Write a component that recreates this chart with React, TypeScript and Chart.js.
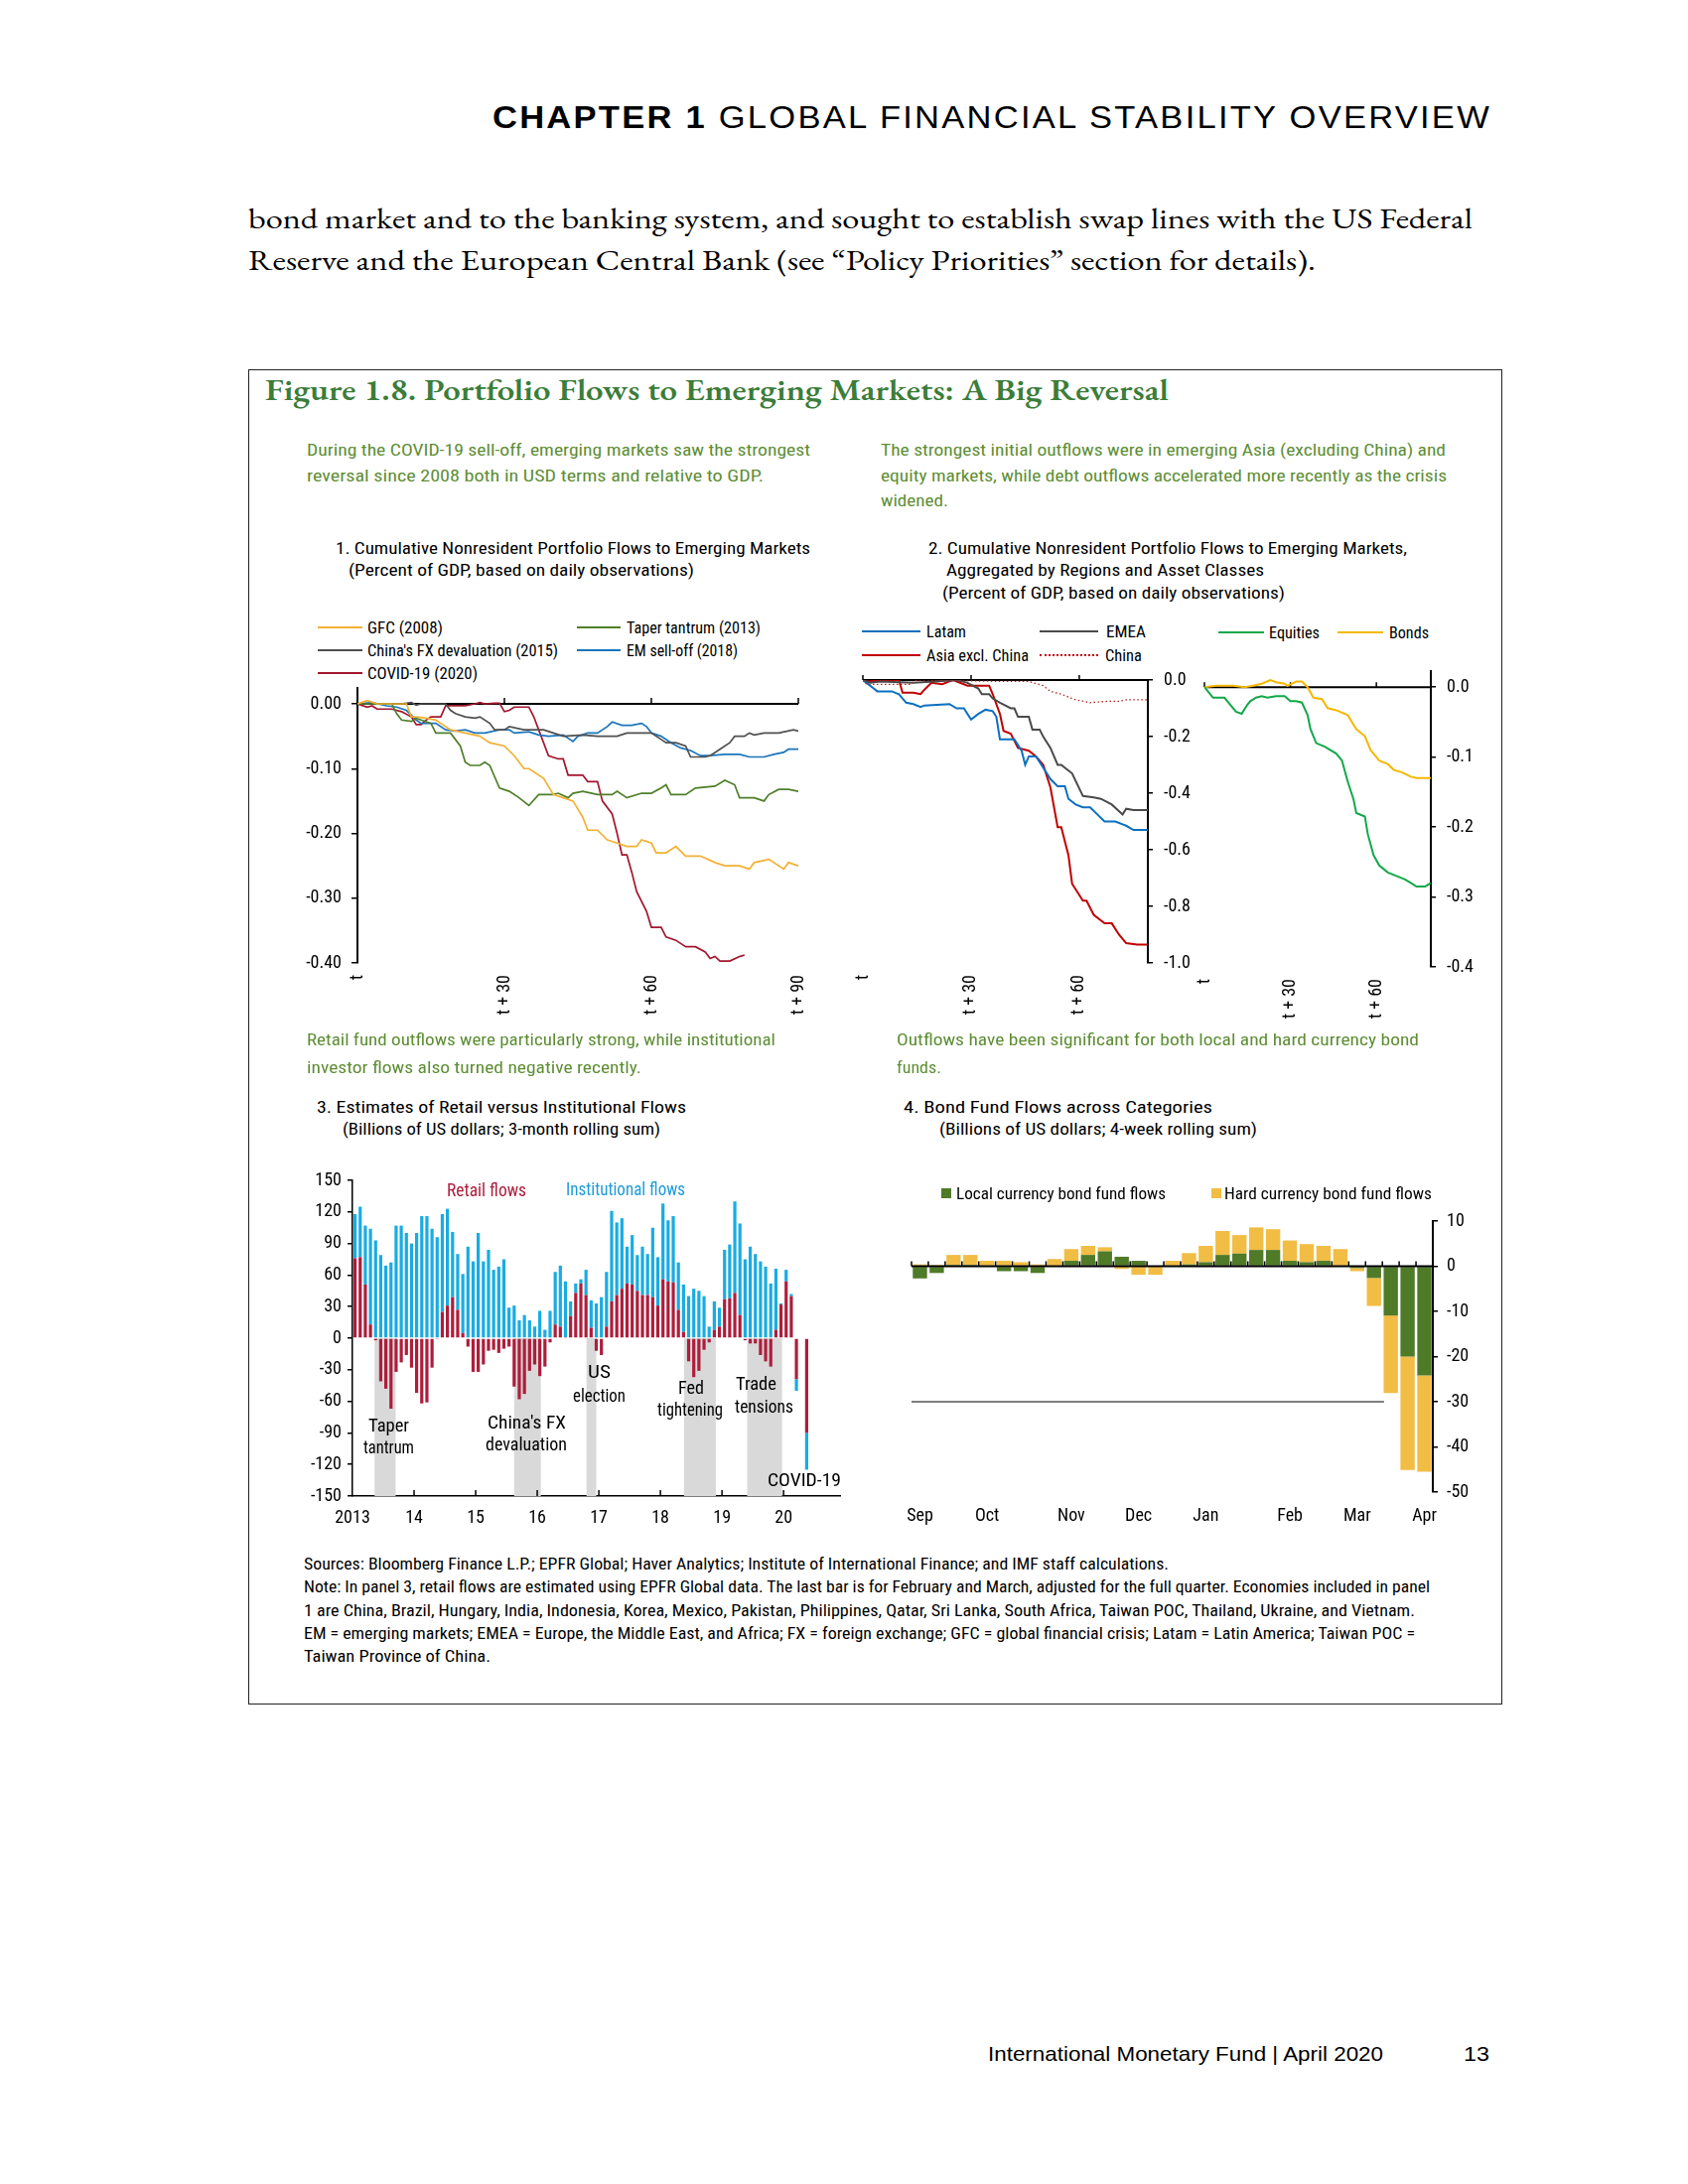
import React, { useEffect, useLayoutEffect, useRef } from 'react';
import { Chart, registerables } from 'chart.js';

Chart.register(...registerables);

const NARROW = "'Roboto Condensed', 'DejaVu Sans Condensed', 'Liberation Sans', Arial, sans-serif";
const SANS = "'Liberation Sans', Arial, sans-serif";
const SERIF = "'EB Garamond', 'Liberation Serif', 'Times New Roman', serif";
Chart.defaults.font.family = NARROW;
Chart.defaults.color = '#000';

// ---------------- Panel 1 data (days after t, percent of GDP) ----------------
const p1XTickValues = [0, 30, 60, 90];
const p1XTickLabels = ['t', 't + 30', 't + 60', 't + 90'];
const p1YTickValues = [0, -0.1, -0.2, -0.3, -0.4];

const gfcSeries = [[0,0],[2,0.005],[4,0],[10,0],[11,-0.02],[12,-0.02],[14,-0.022],[16,-0.025],[19,-0.04],[22,-0.045],[25,-0.05],[27,-0.06],[30,-0.065],[32,-0.08],[34,-0.1],[35,-0.1],[38,-0.115],[40,-0.14],[42,-0.145],[44,-0.15],[46,-0.175],[47,-0.195],[49,-0.195],[51,-0.21],[53,-0.215],[55,-0.22],[57,-0.22],[58,-0.21],[60,-0.215],[61,-0.23],[63,-0.23],[65,-0.22],[67,-0.235],[70,-0.235],[73,-0.245],[75,-0.25],[78,-0.25],[80,-0.255],[81,-0.245],[84,-0.24],[87,-0.255],[88,-0.245],[90,-0.25]];
const tantrumSeries = [[0,0],[7,0],[8,-0.015],[9,-0.025],[11,-0.027],[12,-0.022],[13,-0.025],[15,-0.03],[16,-0.045],[19,-0.045],[21,-0.065],[22,-0.09],[23,-0.095],[25,-0.095],[26,-0.09],[27,-0.095],[29,-0.13],[31,-0.135],[33,-0.145],[35,-0.157],[37,-0.14],[40,-0.14],[41,-0.138],[43,-0.145],[44,-0.138],[46,-0.135],[49,-0.14],[52,-0.14],[53,-0.135],[55,-0.145],[58,-0.138],[60,-0.138],[62,-0.13],[63,-0.125],[64,-0.14],[67,-0.14],[69,-0.13],[73,-0.127],[75,-0.118],[77,-0.125],[78,-0.145],[81,-0.145],[83,-0.15],[84,-0.14],[86,-0.132],[88,-0.132],[90,-0.135]];
const chinaFxSeries = [[0,0],[9,0],[11,0.002],[12,-0.002],[13,0],[18,0],[19,-0.01],[20,-0.015],[22,-0.02],[24,-0.022],[25,-0.02],[27,-0.03],[28,-0.04],[30,-0.04],[31,-0.035],[34,-0.04],[38,-0.04],[40,-0.045],[42,-0.05],[46,-0.048],[49,-0.05],[53,-0.05],[55,-0.045],[60,-0.045],[62,-0.055],[63,-0.06],[65,-0.06],[67,-0.065],[68,-0.082],[71,-0.082],[72,-0.08],[74,-0.07],[76,-0.06],[77,-0.05],[79,-0.05],[80,-0.045],[81,-0.048],[83,-0.045],[86,-0.045],[89,-0.04],[90,-0.042]];
const emSelloffSeries = [[0,0],[3,0.002],[6,-0.003],[8,-0.005],[10,-0.01],[12,-0.025],[13,-0.03],[16,-0.03],[18,-0.04],[20,-0.042],[22,-0.04],[24,-0.045],[26,-0.045],[29,-0.04],[31,-0.04],[32,-0.045],[35,-0.043],[37,-0.048],[39,-0.05],[42,-0.048],[44,-0.058],[45,-0.05],[47,-0.045],[49,-0.045],[51,-0.035],[52,-0.028],[54,-0.033],[56,-0.033],[58,-0.03],[59,-0.035],[60,-0.045],[62,-0.05],[64,-0.06],[66,-0.068],[68,-0.072],[70,-0.08],[72,-0.08],[75,-0.078],[78,-0.078],[80,-0.082],[83,-0.082],[85,-0.078],[87,-0.075],[88,-0.07],[90,-0.07]];
const covidSeries = [[0,0],[2,-0.005],[3,-0.003],[4,-0.008],[7,-0.008],[9,-0.012],[11,-0.02],[12,-0.032],[13,-0.032],[14,-0.025],[15,-0.02],[17,-0.02],[18,-0.003],[22,-0.003],[24,0],[25,0.002],[26,0],[28,0.001],[29,0.001],[30,-0.012],[31,-0.01],[32,-0.005],[35,-0.005],[36,-0.02],[37,-0.04],[39,-0.08],[41,-0.085],[42,-0.085],[43,-0.11],[46,-0.11],[47,-0.12],[49,-0.12],[50,-0.15],[52,-0.17],[53,-0.2],[54,-0.233],[55,-0.233],[56,-0.26],[57,-0.29],[59,-0.32],[60,-0.345],[62,-0.345],[63,-0.36],[65,-0.365],[67,-0.375],[69,-0.375],[71,-0.383],[72,-0.393],[73,-0.39],[74,-0.397],[76,-0.397],[78,-0.39],[79,-0.388]];

// ---------------- Panel 2 data ----------------
const p2XTickValues = [0, 30, 60];
const p2XTickLabels = ['t', 't + 30', 't + 60'];
const p2aYTickValues = [0, -0.2, -0.4, -0.6, -0.8, -1.0];
const p2bYTickValues = [0, -0.1, -0.2, -0.3, -0.4];

const latamSeries = [[0,0],[1,-0.01],[3,-0.03],[4,-0.04],[8,-0.04],[10,-0.05],[12,-0.08],[14,-0.085],[16,-0.095],[17,-0.09],[24,-0.085],[26,-0.1],[28,-0.1],[30,-0.14],[32,-0.12],[34,-0.105],[36,-0.11],[37,-0.13],[38,-0.21],[42,-0.21],[44,-0.25],[45,-0.3],[46,-0.27],[48,-0.27],[51,-0.33],[52,-0.35],[54,-0.375],[56,-0.375],[57,-0.42],[59,-0.44],[61,-0.45],[63,-0.45],[65,-0.475],[67,-0.5],[70,-0.5],[72,-0.51],[73,-0.515],[75,-0.53],[79,-0.53]];
const emeaSeries = [[0,0],[2,-0.01],[5,-0.005],[14,-0.01],[20,-0.005],[26,0],[29,-0.01],[32,-0.03],[33,-0.05],[35,-0.05],[36,-0.065],[38,-0.08],[41,-0.1],[42,-0.1],[43,-0.13],[46,-0.13],[47,-0.175],[49,-0.175],[50,-0.2],[52,-0.24],[54,-0.3],[55,-0.3],[57,-0.32],[58,-0.33],[61,-0.41],[64,-0.415],[66,-0.42],[69,-0.44],[72,-0.475],[73,-0.455],[75,-0.46],[79,-0.46]];
const asiaExChinaSeries = [[0,0],[1,-0.005],[8,0],[10,0],[11,-0.045],[14,-0.045],[16,-0.05],[17,-0.035],[19,-0.01],[22,-0.015],[24,-0.005],[25,0],[29,-0.02],[35,-0.02],[36,-0.05],[38,-0.12],[39,-0.18],[41,-0.19],[43,-0.24],[46,-0.25],[48,-0.27],[50,-0.3],[52,-0.38],[54,-0.52],[55,-0.52],[57,-0.62],[58,-0.72],[61,-0.78],[62,-0.78],[64,-0.83],[67,-0.86],[69,-0.86],[71,-0.9],[73,-0.93],[76,-0.935],[79,-0.935]];
const chinaSeries = [[0,0],[1,-0.015],[13,-0.015],[15,0],[39,-0.005],[46,-0.005],[50,-0.02],[52,-0.04],[55,-0.05],[59,-0.07],[63,-0.08],[68,-0.075],[71,-0.075],[73,-0.07],[79,-0.07]];
const equitiesSeries = [[0,0],[1,-0.005],[3,-0.015],[7,-0.015],[9,-0.025],[11,-0.035],[13,-0.038],[15,-0.025],[16,-0.02],[18,-0.015],[20,-0.013],[22,-0.015],[25,-0.013],[28,-0.013],[30,-0.02],[32,-0.02],[34,-0.022],[36,-0.04],[37,-0.06],[39,-0.08],[42,-0.085],[44,-0.09],[46,-0.095],[48,-0.105],[50,-0.135],[52,-0.16],[53,-0.18],[56,-0.185],[57,-0.21],[59,-0.24],[61,-0.255],[64,-0.265],[67,-0.27],[70,-0.275],[72,-0.28],[74,-0.285],[77,-0.285],[79,-0.28]];
const bondsSeries = [[0,0],[4,0.002],[10,0.002],[14,0],[17,0.002],[20,0.005],[23,0.01],[25,0.007],[28,0.005],[29,0.002],[32,0.008],[34,0.008],[36,0],[38,-0.015],[41,-0.017],[43,-0.03],[46,-0.033],[50,-0.04],[53,-0.06],[56,-0.07],[58,-0.09],[61,-0.105],[64,-0.11],[66,-0.118],[69,-0.122],[72,-0.128],[74,-0.13],[79,-0.13]];

// ---------------- Panel 3 data (monthly from Jan 2013, billions of US dollars) ----------------
const p3YearTickValues = [0, 12, 24, 36, 48, 60, 72, 84];
const p3YearLabels = ['2013', '14', '15', '16', '17', '18', '19', '20'];
const p3YTickValues = [150, 120, 90, 60, 30, 0, -30, -60, -90, -120, -150];
const retailFlows = [76,77,51,13,-2,-41,-48,-67,-32,-23,-16,-28, -52,-62,-61,-28,-1,25,31,39,27,5,-8,-32, -32,-25,-12,-11,-14,-10,-8,-46,-58,-53,-31,-25, -36,-27,-4,13,11,1,21,43,52,41,10,-12, -16,11,35,41,47,52,51,45,41,41,39,31, 56,54,53,27,6,-22,-37,-31,-11,-4,8,11, 37,38,43,22,-2,-5,-5,-16,-22,-27,8,32, 54,40,-39,null,-90];
const institutionalFlows = [42,48,56,91,93,79,69,72,107,107,100,90, 100,116,116,104,96,93,92,62,53,56,87,73, 100,73,84,65,68,75,29,31,17,22,17,11, 26,8,26,50,58,53,14,9,4,24,26,33, 39,52,86,69,67,35,47,34,46,39,66,46, 72,58,63,45,45,40,47,45,40,11,27,18, 47,51,87,87,75,87,80,73,68,52,58,1, 11,2,-11,null,-35];
// event periods, in months from Jan 2013
const p3EventBands = [[4.3, 8.4], [31.5, 36.7], [45.6, 47.5], [64.6, 70.8], [76.9, 83.7]];

// ---------------- Panel 4 data (weekly, billions of US dollars) ----------------
const p4Weeks = ['Sep','','','','Oct','','','','','Nov','','','','Dec','','','','Jan','','','','','Feb','','','','Mar','','','','Apr'];
const p4YTickValues = [10, 0, -10, -20, -30, -40, -50];
const localCurrencyFlows = [-2.7,-1.5,0.3,0.3,0,-1.1,-1.1,-1.5,0,1.2,2.5,3.3,2.1,1.2,0,0,0.4,0.9,2.5,2.8,3.6,3.6,1.2,0.9,1.2,0,-0.4,-2.6,-10.9,-20.0,-24.2];
const hardCurrencyFlows = [0.4,0.3,2.2,2.2,1.2,1.2,0.9,0.4,1.6,2.6,2.0,0.9,-0.6,-1.9,-1.9,1.2,2.5,3.6,5.3,4.1,5.0,4.6,4.5,4.0,3.3,3.8,-0.7,-6.2,-17.2,-25.1,-21.3];

const COL = {
  gfc: '#F2B134', tantrum: '#4F7F2A', chinaFx: '#505050', em: '#1B75BC', covid: '#A3172F',
  latam: '#0B70C0', emea: '#4A4A4A', asia: '#C00000', china: '#B22222', equities: '#12A84A', bonds: '#F5B800',
  retail: '#AD1E3C', inst: '#19ACE3', band: '#D9D9D9', local: '#4F7A28', hard: '#F1BD45',
  titleGreen: '#3B7D3A', introGreen: '#5E8E35',
};

const tickFont = { family: NARROW, size: 18 };

// ---------------- plugins ----------------
function zeroLine(o: { ticks?: number[]; boundaries?: boolean; len: number; before?: boolean; width?: number }) {
  const draw = (chart: any) => {
    const { ctx, chartArea: ca, scales } = chart;
    const y0 = scales.y.getPixelForValue(0);
    ctx.save();
    ctx.strokeStyle = '#000';
    ctx.lineWidth = o.width ?? 2;
    ctx.beginPath(); ctx.moveTo(ca.left, y0); ctx.lineTo(ca.right, y0); ctx.stroke();
    let xs: number[] = [];
    if (o.boundaries) {
      const n = chart.data.labels.length; const step = (ca.right - ca.left) / n;
      for (let i = 0; i <= n; i++) xs.push(ca.left + i * step);
    } else xs = (o.ticks || []).map((v) => scales.x.getPixelForValue(v));
    ctx.lineWidth = 1.5;
    ctx.beginPath();
    xs.forEach((x) => { ctx.moveTo(x, y0); ctx.lineTo(x, y0 - o.len); });
    ctx.stroke();
    ctx.restore();
  };
  return {
    id: 'zeroLine',
    beforeDatasetsDraw(chart: any) { if (o.before) draw(chart); },
    afterDatasetsDraw(chart: any) { if (!o.before) draw(chart); },
  };
}

function bands(ranges: number[][], color: string) {
  return {
    id: 'bands',
    beforeDatasetsDraw(chart: any) {
      const { ctx, scales: { x, y } } = chart;
      const y0 = y.getPixelForValue(0), y1 = y.getPixelForValue(y.min);
      ctx.save(); ctx.fillStyle = color;
      ranges.forEach(([a, b]) => { const x0 = x.getPixelForValue(a), x1 = x.getPixelForValue(b); ctx.fillRect(x0, y0, x1 - x0, y1 - y0); });
      ctx.restore();
    },
  };
}

function innerTicks(vals: number[], len: number) {
  return {
    id: 'innerTicks',
    afterDraw(chart: any) {
      const { ctx, chartArea: ca, scales: { x } } = chart;
      ctx.save(); ctx.strokeStyle = '#000'; ctx.lineWidth = 1.5; ctx.beginPath();
      vals.forEach((v) => { const px = x.getPixelForValue(v); ctx.moveTo(px, ca.bottom); ctx.lineTo(px, ca.bottom - len); });
      ctx.stroke(); ctx.restore();
    },
  };
}

function hline(value: number, toIndex: number) {
  return {
    id: 'hline',
    beforeDatasetsDraw(chart: any) {
      const { ctx, chartArea: ca, scales: { y } } = chart;
      const n = chart.data.labels.length; const step = (ca.right - ca.left) / n;
      const py = y.getPixelForValue(value);
      ctx.save(); ctx.strokeStyle = '#000'; ctx.lineWidth = 1.2; ctx.beginPath();
      ctx.moveTo(ca.left, py); ctx.lineTo(ca.left + (toIndex + 0.5) * step, py); ctx.stroke(); ctx.restore();
    },
  };
}

const fixTicks = (vals: number[]) => (s: any) => { s.ticks = vals.map((v) => ({ value: v })); };
const base = { responsive: false, animation: false, events: [], plugins: { legend: { display: false }, tooltip: { enabled: false } } };

function lineDs(label: string, pts: number[][], color: string, width: number, dash?: number[]) {
  return { label, data: pts.map(([x, y]) => ({ x, y })), borderColor: color, backgroundColor: color, borderWidth: width, pointRadius: 0, fill: false, tension: 0, borderDash: dash || [] };
}

function rotatedX(min: number, max: number, vals: number[], labels: string[], height: number) {
  return {
    type: 'linear', min, max,
    afterBuildTicks: fixTicks(vals),
    afterFit: (s: any) => { s.height = height; },
    grid: { display: false, drawTicks: false }, border: { display: false },
    ticks: { font: tickFont, color: '#000', minRotation: 90, maxRotation: 90, padding: 12, autoSkip: false, callback: (v: any) => labels[vals.indexOf(Number(v))] ?? '' },
  };
}

function p1Config(): any {
  return {
    type: 'line',
    data: { datasets: [
      lineDs('GFC (2008)', gfcSeries, COL.gfc, 1.7),
      lineDs('Taper tantrum (2013)', tantrumSeries, COL.tantrum, 1.7),
      lineDs("China's FX devaluation (2015)", chinaFxSeries, COL.chinaFx, 1.7),
      lineDs('EM sell-off (2018)', emSelloffSeries, COL.em, 1.7),
      lineDs('COVID-19 (2020)', covidSeries, COL.covid, 1.7),
    ] },
    options: {
      ...base,
      layout: { padding: { top: 22.7, right: 46, left: 0, bottom: 0 } },
      scales: {
        x: rotatedX(0, 90, p1XTickValues, p1XTickLabels, 70),
        y: {
          min: -0.4, max: 0.025, afterBuildTicks: fixTicks(p1YTickValues), afterFit: (s: any) => { s.width = 70; },
          grid: { display: true, drawOnChartArea: false, drawTicks: true, tickLength: 6, color: '#000', lineWidth: 1.5 },
          border: { display: true, color: '#000', width: 2 },
          ticks: { font: tickFont, color: '#000', padding: 10, callback: (v: any) => Number(v).toFixed(2) },
        },
      },
    },
    plugins: [zeroLine({ ticks: [30, 60, 90], len: 6, before: true })],
  };
}

function rightY(min: number, max: number, vals: number[], width: number, decimals: number, padding: number) {
  return {
    position: 'right', min, max, afterBuildTicks: fixTicks(vals), afterFit: (s: any) => { s.width = width; },
    grid: { display: true, drawOnChartArea: false, drawTicks: true, tickLength: 5, color: '#000', lineWidth: 1.5 },
    border: { display: true, color: '#000', width: 2 },
    ticks: { font: tickFont, color: '#000', padding, callback: (v: any) => (decimals >= 0 ? Number(v).toFixed(decimals) : String(v)) },
  };
}

function p2aConfig(): any {
  return {
    type: 'line',
    data: { datasets: [
      lineDs('China', chinaSeries, COL.china, 1.3, [1.5, 2.5]),
      lineDs('EMEA', emeaSeries, COL.emea, 2),
      lineDs('Latam', latamSeries, COL.latam, 2),
      lineDs('Asia excl. China', asiaExChinaSeries, COL.asia, 2),
    ] },
    options: {
      ...base,
      layout: { padding: { top: 25, left: 19, right: 0, bottom: 0 } },
      scales: { x: rotatedX(0, 79, p2XTickValues, p2XTickLabels, 70), y: rightY(-1, 0, p2aYTickValues, 54, 1, 11) },
    },
    plugins: [zeroLine({ ticks: [0, 30, 60], len: 5, before: true })],
  };
}

function p2bConfig(): any {
  return {
    type: 'line',
    data: { datasets: [
      lineDs('Equities', equitiesSeries, COL.equities, 2),
      lineDs('Bonds', bondsSeries, COL.bonds, 2),
    ] },
    options: {
      ...base,
      layout: { padding: { top: 26, left: 18, right: 0, bottom: 0 } },
      scales: { x: rotatedX(0, 79, p2XTickValues, p2XTickLabels, 66), y: rightY(-0.4, 0.023, p2bYTickValues, 59, 1, 11) },
    },
    plugins: [zeroLine({ ticks: [0, 30, 60], len: 5, before: true })],
  };
}

function monthPoints(arr: (number | null)[]) {
  return arr.map((v, i) => (v == null ? null : { x: i + 0.5, y: v })).filter((p) => p !== null);
}

function p3Config(): any {
  return {
    type: 'bar',
    data: { datasets: [
      { label: 'Retail flows', data: monthPoints(retailFlows), backgroundColor: COL.retail, borderWidth: 0, barPercentage: 0.62, categoryPercentage: 1 },
      { label: 'Institutional flows', data: monthPoints(institutionalFlows), backgroundColor: COL.inst, borderWidth: 0, barPercentage: 0.62, categoryPercentage: 1 },
    ] },
    options: {
      ...base,
      layout: { padding: { top: 19, right: 34, left: 0, bottom: 0 } },
      scales: {
        x: {
          type: 'linear', min: 0, max: 95, offset: false, stacked: true,
          afterBuildTicks: fixTicks(p3YearTickValues), afterFit: (s: any) => { s.height = 43; },
          grid: { display: false, drawTicks: false, offset: false }, border: { display: true, color: '#000', width: 1.5 },
          ticks: { font: tickFont, color: '#000', padding: 12, maxRotation: 0, autoSkip: false, callback: (v: any) => p3YearLabels[p3YearTickValues.indexOf(Number(v))] ?? '' },
        },
        y: {
          min: -150, max: 150, stacked: true, afterBuildTicks: fixTicks(p3YTickValues), afterFit: (s: any) => { s.width = 65; },
          grid: { display: true, drawOnChartArea: false, drawTicks: true, tickLength: 5, color: '#000', lineWidth: 1.5 },
          border: { display: true, color: '#000', width: 1.5 },
          ticks: { font: tickFont, color: '#000', padding: 6, callback: (v: any) => String(v) },
        },
      },
    },
    plugins: [bands(p3EventBands, COL.band), innerTicks(p3YearTickValues.slice(1), 6)],
  };
}

function p4Config(): any {
  return {
    type: 'bar',
    data: { labels: p4Weeks, datasets: [
      { label: 'Local currency bond fund flows', data: localCurrencyFlows, backgroundColor: COL.local, borderWidth: 0, barPercentage: 0.85, categoryPercentage: 1 },
      { label: 'Hard currency bond fund flows', data: hardCurrencyFlows, backgroundColor: COL.hard, borderWidth: 0, barPercentage: 0.85, categoryPercentage: 1 },
    ] },
    options: {
      ...base,
      layout: { padding: { top: 25, left: 38, right: 0, bottom: 0 } },
      scales: {
        x: {
          stacked: true, afterFit: (s: any) => { s.height = 47; },
          grid: { display: false, drawTicks: false }, border: { display: false },
          ticks: { font: tickFont, color: '#000', padding: 14, maxRotation: 0, autoSkip: false },
        },
        y: { ...rightY(-50, 10, p4YTickValues, 57, -1, 9), stacked: true },
      },
    },
    plugins: [hline(-30, 27.6), zeroLine({ boundaries: true, len: 5 })],
  };
}

// ---------------- components ----------------
function ChartBox({ left, top, width, height, make }: { left: number; top: number; width: number; height: number; make: () => any }) {
  const ref = useRef<HTMLCanvasElement>(null);
  useEffect(() => {
    const chart = new Chart(ref.current as HTMLCanvasElement, make());
    return () => chart.destroy();
  }, []);
  return <canvas ref={ref} width={width} height={height} style={{ position: 'absolute', left, top, width, height }} />;
}

type TP = { x: number; y: number; w?: number; size?: number; color?: string; family?: string; weight?: any; ls?: number; children: React.ReactNode };
function T({ x, y, w, size = 17, color = '#000', family = NARROW, weight = 400, ls = 0, children }: TP) {
  const ref = useRef<HTMLDivElement>(null);
  useLayoutEffect(() => {
    const el = ref.current;
    if (!el || !w) return;
    el.style.transform = 'none';
    const nat = el.getBoundingClientRect().width;
    if (nat > 0) el.style.transform = `scaleX(${w / nat})`;
  });
  const lh = Math.round(size * 1.3);
  return (
    <div ref={ref} style={{ position: 'absolute', left: x, top: y - lh / 2, height: lh, lineHeight: `${lh}px`, fontSize: size, fontFamily: family, fontWeight: weight, color, whiteSpace: 'nowrap', transformOrigin: '0 50%', letterSpacing: ls }}>
      {children}
    </div>
  );
}

function LineKey({ x1, x2, y, color, width = 2, dotted = false }: any) {
  return <div style={{ position: 'absolute', left: x1, top: y - width / 2, width: x2 - x1, height: 0, borderTop: `${width}px ${dotted ? 'dotted' : 'solid'} ${color}` }} />;
}
function SquareKey({ x, y, color }: any) {
  return <div style={{ position: 'absolute', left: x, top: y - 5, width: 10, height: 10, background: color }} />;
}

export default function App() {
  return (
    <div style={{ position: 'absolute', left: 0, top: 0, width: 1700, height: 2200, background: '#fff', overflow: 'hidden' }}>
      <T x={496} y={119} w={1006} size={31} family={SANS} ls={2}><b>CHAPTER 1</b> GLOBAL FINANCIAL STABILITY OVERVIEW</T>
      <T x={250} y={220} w={1233} size={29} family={SERIF}>bond market and to the banking system, and sought to establish swap lines with the US Federal</T>
      <T x={250} y={262} w={1075} size={29} family={SERIF}>Reserve and the European Central Bank (see “Policy Priorities” section for details).</T>

      <div style={{ position: 'absolute', left: 250, top: 372, width: 1263, height: 1345, border: '1.5px solid #222', boxSizing: 'border-box' }} />
      <T x={267} y={392} w={910} size={30} family={SERIF} weight={600} color={COL.titleGreen}>Figure 1.8. Portfolio Flows to Emerging Markets: A Big Reversal</T>

      <T x={309} y={453} w={507} color={COL.introGreen}>During the COVID-19 sell-off, emerging markets saw the strongest</T>
      <T x={309} y={479} w={460} color={COL.introGreen}>reversal since 2008 both in USD terms and relative to GDP.</T>
      <T x={887} y={453} w={569} color={COL.introGreen}>The strongest initial outflows were in emerging Asia (excluding China) and</T>
      <T x={887} y={479} w={570} color={COL.introGreen}>equity markets, while debt outflows accelerated more recently as the crisis</T>
      <T x={887} y={504} w={68} color={COL.introGreen}>widened.</T>

      <T x={338} y={552} w={478}>1. Cumulative Nonresident Portfolio Flows to Emerging Markets</T>
      <T x={351} y={574} w={348}>(Percent of GDP, based on daily observations)</T>
      <T x={935} y={552} w={482}>2. Cumulative Nonresident Portfolio Flows to Emerging Markets,</T>
      <T x={953} y={574} w={320}>Aggregated by Regions and Asset Classes</T>
      <T x={949} y={597} w={345}>(Percent of GDP, based on daily observations)</T>

      {/* panel 1 legend */}
      <LineKey x1={320} x2={365} y={632} color={COL.gfc} />
      <T x={370} y={632} w={76}>GFC (2008)</T>
      <LineKey x1={320} x2={365} y={655} color={COL.chinaFx} />
      <T x={370} y={655} w={192}>China's FX devaluation (2015)</T>
      <LineKey x1={320} x2={365} y={678} color={COL.covid} />
      <T x={370} y={678} w={111}>COVID-19 (2020)</T>
      <LineKey x1={581} x2={625} y={632} color={COL.tantrum} />
      <T x={631} y={632} w={135}>Taper tantrum (2013)</T>
      <LineKey x1={581} x2={625} y={655} color={COL.em} />
      <T x={631} y={655} w={112}>EM sell-off (2018)</T>

      {/* panel 2 legend */}
      <LineKey x1={868} x2={927} y={636} color={COL.latam} />
      <T x={933} y={636} w={40}>Latam</T>
      <LineKey x1={1047} x2={1106} y={636} color={COL.emea} />
      <T x={1114} y={636} w={40}>EMEA</T>
      <LineKey x1={868} x2={927} y={660} color={COL.asia} />
      <T x={933} y={660} w={103}>Asia excl. China</T>
      <LineKey x1={1047} x2={1106} y={660} color="#C00000" width={2} dotted />
      <T x={1113} y={660} w={37}>China</T>
      <LineKey x1={1227} x2={1273} y={637} color={COL.equities} />
      <T x={1278} y={637} w={51}>Equities</T>
      <LineKey x1={1347} x2={1393} y={637} color={COL.bonds} />
      <T x={1399} y={637} w={40}>Bonds</T>

      <ChartBox left={290} top={670} width={560} height={370} make={p1Config} />
      <ChartBox left={850} top={660} width={360} height={380} make={p2aConfig} />
      <ChartBox left={1195} top={650} width={305} height={390} make={p2bConfig} />

      <T x={309} y={1047} w={472} color={COL.introGreen}>Retail fund outflows were particularly strong, while institutional</T>
      <T x={309} y={1075} w={337} color={COL.introGreen}>investor flows also turned negative recently.</T>
      <T x={903} y={1047} w={526} color={COL.introGreen}>Outflows have been significant for both local and hard currency bond</T>
      <T x={903} y={1075} w={45} color={COL.introGreen}>funds.</T>

      <T x={319} y={1115} w={372}>3. Estimates of Retail versus Institutional Flows</T>
      <T x={345} y={1137} w={320}>(Billions of US dollars; 3-month rolling sum)</T>
      <T x={910} y={1115} w={311}>4. Bond Fund Flows across Categories</T>
      <T x={946} y={1137} w={320}>(Billions of US dollars; 4-week rolling sum)</T>

      <ChartBox left={290} top={1170} width={590} height={380} make={p3Config} />
      <ChartBox left={880} top={1205} width={620} height={345} make={p4Config} />

      {/* panel 3 annotations */}
      <T x={450} y={1198} w={80} size={18} color={COL.retail}>Retail flows</T>
      <T x={570} y={1197} w={120} size={18} color="#1E9BD7">Institutional flows</T>
      <T x={371} y={1435} w={41} size={18}>Taper</T>
      <T x={366} y={1457} w={51} size={18}>tantrum</T>
      <T x={491} y={1432} w={79} size={18}>China's FX</T>
      <T x={489} y={1454} w={82} size={18}>devaluation</T>
      <T x={592} y={1381} w={23} size={18}>US</T>
      <T x={577} y={1405} w={53} size={18}>election</T>
      <T x={683} y={1397} w={26} size={18}>Fed</T>
      <T x={662} y={1419} w={66} size={18}>tightening</T>
      <T x={741} y={1393} w={41} size={18}>Trade</T>
      <T x={740} y={1416} w={59} size={18}>tensions</T>
      <T x={773} y={1490} w={74} size={18}>COVID-19</T>

      {/* panel 4 legend */}
      <SquareKey x={948} y={1202} color={COL.local} />
      <T x={963} y={1202} w={211}>Local currency bond fund flows</T>
      <SquareKey x={1220} y={1202} color={COL.hard} />
      <T x={1233} y={1202} w={209}>Hard currency bond fund flows</T>

      <T x={306} y={1575} w={871} size={16}>Sources: Bloomberg Finance L.P.; EPFR Global; Haver Analytics; Institute of International Finance; and IMF staff calculations.</T>
      <T x={306} y={1598} w={1134} size={16}>Note: In panel 3, retail flows are estimated using EPFR Global data. The last bar is for February and March, adjusted for the full quarter. Economies included in panel</T>
      <T x={306} y={1622} w={1119} size={16}>1 are China, Brazil, Hungary, India, Indonesia, Korea, Mexico, Pakistan, Philippines, Qatar, Sri Lanka, South Africa, Taiwan POC, Thailand, Ukraine, and Vietnam.</T>
      <T x={306} y={1645} w={1119} size={16}>EM = emerging markets; EMEA = Europe, the Middle East, and Africa; FX = foreign exchange; GFC = global financial crisis; Latam = Latin America; Taiwan POC =</T>
      <T x={306} y={1668} w={188} size={16}>Taiwan Province of China.</T>

      <T x={995} y={2068} w={398} size={21} family={SANS}>International Monetary Fund | April 2020</T>
      <T x={1474} y={2068} w={26} size={21} family={SANS}>13</T>
    </div>
  );
}
